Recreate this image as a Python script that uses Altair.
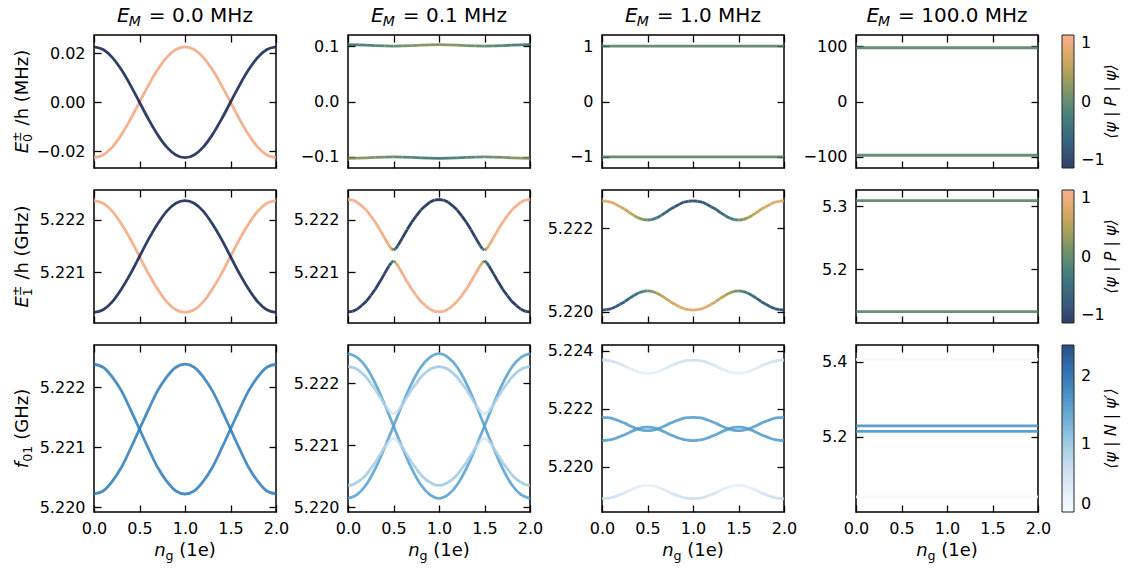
import altair as alt
import pandas as pd

FONT = "DejaVu Sans"

# ------------------------------------------------------------------ data
NG21 = [0.0, 0.1, 0.2, 0.3, 0.4, 0.5, 0.6, 0.7, 0.8, 0.9, 1.0,
        1.1, 1.2, 1.3, 1.4, 1.5, 1.6, 1.7, 1.8, 1.9, 2.0]
NG41 = [0.0, 0.05, 0.1, 0.15, 0.2, 0.25, 0.3, 0.35, 0.4, 0.45, 0.5,
        0.55, 0.6, 0.65, 0.7, 0.75, 0.8, 0.85, 0.9, 0.95, 1.0,
        1.05, 1.1, 1.15, 1.2, 1.25, 1.3, 1.35, 1.4, 1.45, 1.5,
        1.55, 1.6, 1.65, 1.7, 1.75, 1.8, 1.85, 1.9, 1.95, 2.0]
NG45 = [0.0, 0.05, 0.1, 0.15, 0.2, 0.25, 0.3, 0.35, 0.4, 0.45, 0.475, 0.5,
        0.525, 0.55, 0.6, 0.65, 0.7, 0.75, 0.8, 0.85, 0.9, 0.95, 1.0,
        1.05, 1.1, 1.15, 1.2, 1.25, 1.3, 1.35, 1.4, 1.45, 1.475, 1.5,
        1.525, 1.55, 1.6, 1.65, 1.7, 1.75, 1.8, 1.85, 1.9, 1.95, 2.0]
NG2 = [0.0, 2.0]

# row 1: E0 (MHz)
E0_NAVY = [0.0226, 0.0215, 0.0183, 0.0133, 0.0070, 0.0, -0.0070, -0.0133, -0.0183, -0.0215, -0.0226,
           -0.0215, -0.0183, -0.0133, -0.0070, 0.0, 0.0070, 0.0133, 0.0183, 0.0215, 0.0226]
E0_ORANGE = [-0.0226, -0.0215, -0.0183, -0.0133, -0.0070, 0.0, 0.0070, 0.0133, 0.0183, 0.0215, 0.0226,
             0.0215, 0.0183, 0.0133, 0.0070, 0.0, -0.0070, -0.0133, -0.0183, -0.0215, -0.0226]
E0B_TOP = [0.10252, 0.10228, 0.10166, 0.10088, 0.10024, 0.1, 0.10024, 0.10088, 0.10166, 0.10228, 0.10252,
           0.10228, 0.10166, 0.10088, 0.10024, 0.1, 0.10024, 0.10088, 0.10166, 0.10228, 0.10252]
E0B_BOT = [-0.10252, -0.10228, -0.10166, -0.10088, -0.10024, -0.1, -0.10024, -0.10088, -0.10166, -0.10228, -0.10252,
           -0.10228, -0.10166, -0.10088, -0.10024, -0.1, -0.10024, -0.10088, -0.10166, -0.10228, -0.10252]
E0B_TOP_P = [-0.22, -0.21, -0.18, -0.13, -0.07, 0.0, 0.07, 0.13, 0.18, 0.21, 0.22,
             0.21, 0.18, 0.13, 0.07, 0.0, -0.07, -0.13, -0.18, -0.21, -0.22]
E0B_BOT_P = [0.22, 0.21, 0.18, 0.13, 0.07, 0.0, -0.07, -0.13, -0.18, -0.21, -0.22,
             -0.21, -0.18, -0.13, -0.07, 0.0, 0.07, 0.13, 0.18, 0.21, 0.22]
E0C_LEVELS = [1.0, -1.0]
E0D_LEVELS = [97.0, -97.0]

# row 2: E1 (GHz)
E1_ORANGE = [5.22236, 5.22231, 5.22216, 5.22192, 5.22163, 5.22130, 5.22097, 5.22068, 5.22044, 5.22029, 5.22024,
             5.22029, 5.22044, 5.22068, 5.22097, 5.22130, 5.22163, 5.22192, 5.22216, 5.22231, 5.22236]
E1_NAVY = [5.22024, 5.22029, 5.22044, 5.22068, 5.22097, 5.22130, 5.22163, 5.22192, 5.22216, 5.22231, 5.22236,
           5.22231, 5.22216, 5.22192, 5.22163, 5.22130, 5.22097, 5.22068, 5.22044, 5.22029, 5.22024]
E1B_UP = [5.22238, 5.22237, 5.22233, 5.22226, 5.22218, 5.22207, 5.22195, 5.22181, 5.22166, 5.22151, 5.22145, 5.22142,
          5.22145, 5.22151, 5.22166, 5.22181, 5.22195, 5.22207, 5.22218, 5.22226, 5.22233, 5.22237, 5.22238,
          5.22237, 5.22233, 5.22226, 5.22218, 5.22207, 5.22195, 5.22181, 5.22166, 5.22151, 5.22145, 5.22142,
          5.22145, 5.22151, 5.22166, 5.22181, 5.22195, 5.22207, 5.22218, 5.22226, 5.22233, 5.22237, 5.22238]
E1B_LO = [5.22025, 5.22026, 5.22030, 5.22037, 5.22045, 5.22056, 5.22068, 5.22082, 5.22097, 5.22112, 5.22118, 5.22122,
          5.22118, 5.22112, 5.22097, 5.22082, 5.22068, 5.22056, 5.22045, 5.22037, 5.22030, 5.22026, 5.22025,
          5.22026, 5.22030, 5.22037, 5.22045, 5.22056, 5.22068, 5.22082, 5.22097, 5.22112, 5.22118, 5.22122,
          5.22118, 5.22112, 5.22097, 5.22082, 5.22068, 5.22056, 5.22045, 5.22037, 5.22030, 5.22026, 5.22025]
E1B_UP_P = [1.0, 1.0, 0.99, 0.99, 0.99, 0.99, 0.99, 0.98, 0.96, 0.86, 0.64, 0.0,
            -0.64, -0.86, -0.96, -0.98, -0.99, -0.99, -0.99, -0.99, -0.99, -1.0, -1.0,
            -1.0, -0.99, -0.99, -0.99, -0.99, -0.99, -0.98, -0.96, -0.86, -0.64, 0.0,
            0.64, 0.86, 0.96, 0.98, 0.99, 0.99, 0.99, 0.99, 0.99, 1.0, 1.0]
E1B_LO_P = [-1.0, -1.0, -0.99, -0.99, -0.99, -0.99, -0.99, -0.98, -0.96, -0.86, -0.64, 0.0,
            0.64, 0.86, 0.96, 0.98, 0.99, 0.99, 0.99, 0.99, 0.99, 1.0, 1.0,
            1.0, 0.99, 0.99, 0.99, 0.99, 0.99, 0.98, 0.96, 0.86, 0.64, 0.0,
            -0.64, -0.86, -0.96, -0.98, -0.99, -0.99, -0.99, -0.99, -0.99, -1.0, -1.0]
E1C_UP = [5.22266, 5.22265, 5.22263, 5.22258, 5.22252, 5.22246, 5.22238, 5.22231, 5.22225, 5.22221, 5.22220,
          5.22221, 5.22225, 5.22231, 5.22238, 5.22246, 5.22252, 5.22258, 5.22263, 5.22265, 5.22266,
          5.22265, 5.22263, 5.22258, 5.22252, 5.22246, 5.22238, 5.22231, 5.22225, 5.22221, 5.22220,
          5.22221, 5.22225, 5.22231, 5.22238, 5.22246, 5.22252, 5.22258, 5.22263, 5.22265, 5.22266]
E1C_LO = [5.22004, 5.22005, 5.22007, 5.22012, 5.22018, 5.22024, 5.22032, 5.22039, 5.22045, 5.22049, 5.22050,
          5.22049, 5.22045, 5.22039, 5.22032, 5.22024, 5.22018, 5.22012, 5.22007, 5.22005, 5.22004,
          5.22005, 5.22007, 5.22012, 5.22018, 5.22024, 5.22032, 5.22039, 5.22045, 5.22049, 5.22050,
          5.22049, 5.22045, 5.22039, 5.22032, 5.22024, 5.22018, 5.22012, 5.22007, 5.22005, 5.22004]
E1C_UP_P = [0.76, 0.76, 0.75, 0.72, 0.69, 0.64, 0.57, 0.47, 0.34, 0.18, 0.0,
            -0.18, -0.34, -0.47, -0.57, -0.64, -0.69, -0.72, -0.75, -0.76, -0.76,
            -0.76, -0.75, -0.72, -0.69, -0.64, -0.57, -0.47, -0.34, -0.18, 0.0,
            0.18, 0.34, 0.47, 0.57, 0.64, 0.69, 0.72, 0.75, 0.76, 0.76]
E1C_LO_P = [-0.76, -0.76, -0.75, -0.72, -0.69, -0.64, -0.57, -0.47, -0.34, -0.18, 0.0,
            0.18, 0.34, 0.47, 0.57, 0.64, 0.69, 0.72, 0.75, 0.76, 0.76,
            0.76, 0.75, 0.72, 0.69, 0.64, 0.57, 0.47, 0.34, 0.18, 0.0,
            -0.18, -0.34, -0.47, -0.57, -0.64, -0.69, -0.72, -0.75, -0.76, -0.76]
E1D_LEVELS = [5.309, 5.132]

# row 3: f01 (GHz)
F01A_A = [5.22238, 5.22233, 5.22217, 5.22194, 5.22163, 5.22130, 5.22097, 5.22066, 5.22043, 5.22027, 5.22022,
          5.22027, 5.22043, 5.22066, 5.22097, 5.22130, 5.22163, 5.22194, 5.22217, 5.22233, 5.22238]
F01A_B = [5.22022, 5.22027, 5.22043, 5.22066, 5.22097, 5.22130, 5.22163, 5.22194, 5.22217, 5.22233, 5.22238,
          5.22233, 5.22217, 5.22194, 5.22163, 5.22130, 5.22097, 5.22066, 5.22043, 5.22027, 5.22022]
F01A_N = 1.75
F01B_MA = [5.22248, 5.22242, 5.22226, 5.22200, 5.22167, 5.22131, 5.22095, 5.22062, 5.22036, 5.22020, 5.22014,
           5.22020, 5.22036, 5.22062, 5.22095, 5.22131, 5.22167, 5.22200, 5.22226, 5.22242, 5.22248]
F01B_MB = [5.22014, 5.22020, 5.22036, 5.22062, 5.22095, 5.22131, 5.22167, 5.22200, 5.22226, 5.22242, 5.22248,
           5.22242, 5.22226, 5.22200, 5.22167, 5.22131, 5.22095, 5.22062, 5.22036, 5.22020, 5.22014]
F01B_M_N = 1.4
F01B_LT = [5.22227, 5.22226, 5.22223, 5.22217, 5.22210, 5.22200, 5.22190, 5.22178, 5.22166, 5.22156, 5.22152, 5.22151,
           5.22152, 5.22156, 5.22166, 5.22178, 5.22190, 5.22200, 5.22210, 5.22217, 5.22223, 5.22226, 5.22227,
           5.22226, 5.22223, 5.22217, 5.22210, 5.22200, 5.22190, 5.22178, 5.22166, 5.22156, 5.22152, 5.22151,
           5.22152, 5.22156, 5.22166, 5.22178, 5.22190, 5.22200, 5.22210, 5.22217, 5.22223, 5.22226, 5.22227]
F01B_LB = [5.22035, 5.22036, 5.22040, 5.22045, 5.22052, 5.22062, 5.22072, 5.22084, 5.22096, 5.22106, 5.22110, 5.22111,
           5.22110, 5.22106, 5.22096, 5.22084, 5.22072, 5.22062, 5.22052, 5.22045, 5.22040, 5.22036, 5.22035,
           5.22036, 5.22040, 5.22045, 5.22052, 5.22062, 5.22072, 5.22084, 5.22096, 5.22106, 5.22110, 5.22111,
           5.22110, 5.22106, 5.22096, 5.22084, 5.22072, 5.22062, 5.22052, 5.22045, 5.22040, 5.22036, 5.22035]
F01B_L_N = [0.95, 0.95, 0.95, 0.94, 0.93, 0.91, 0.88, 0.83, 0.74, 0.58, 0.45, 0.38,
            0.45, 0.58, 0.74, 0.83, 0.88, 0.91, 0.93, 0.94, 0.95, 0.95, 0.95,
            0.95, 0.95, 0.94, 0.93, 0.91, 0.88, 0.83, 0.74, 0.58, 0.45, 0.38,
            0.45, 0.58, 0.74, 0.83, 0.88, 0.91, 0.93, 0.94, 0.95, 0.95, 0.95]
F01C_TOP = [5.22368, 5.22367, 5.22365, 5.22360, 5.22354, 5.22348, 5.22340, 5.22333, 5.22327, 5.22323, 5.22322,
            5.22323, 5.22327, 5.22333, 5.22340, 5.22348, 5.22354, 5.22360, 5.22365, 5.22367, 5.22368,
            5.22367, 5.22365, 5.22360, 5.22354, 5.22348, 5.22340, 5.22333, 5.22327, 5.22323, 5.22322,
            5.22323, 5.22327, 5.22333, 5.22340, 5.22348, 5.22354, 5.22360, 5.22365, 5.22367, 5.22368]
F01C_MA = [5.22171, 5.22170, 5.22168, 5.22163, 5.22157, 5.22151, 5.22143, 5.22136, 5.22130, 5.22126, 5.22125,
           5.22126, 5.22130, 5.22136, 5.22143, 5.22151, 5.22157, 5.22163, 5.22168, 5.22170, 5.22171,
           5.22170, 5.22168, 5.22163, 5.22157, 5.22151, 5.22143, 5.22136, 5.22130, 5.22126, 5.22125,
           5.22126, 5.22130, 5.22136, 5.22143, 5.22151, 5.22157, 5.22163, 5.22168, 5.22170, 5.22171]
F01C_MB = [5.22091, 5.22092, 5.22094, 5.22099, 5.22105, 5.22111, 5.22119, 5.22126, 5.22132, 5.22136, 5.22137,
           5.22136, 5.22132, 5.22126, 5.22119, 5.22111, 5.22105, 5.22099, 5.22094, 5.22092, 5.22091,
           5.22092, 5.22094, 5.22099, 5.22105, 5.22111, 5.22119, 5.22126, 5.22132, 5.22136, 5.22137,
           5.22136, 5.22132, 5.22126, 5.22119, 5.22111, 5.22105, 5.22099, 5.22094, 5.22092, 5.22091]
F01C_BOT = [5.21891, 5.21892, 5.21894, 5.21899, 5.21905, 5.21911, 5.21919, 5.21926, 5.21932, 5.21936, 5.21937,
            5.21936, 5.21932, 5.21926, 5.21919, 5.21911, 5.21905, 5.21899, 5.21894, 5.21892, 5.21891,
            5.21892, 5.21894, 5.21899, 5.21905, 5.21911, 5.21919, 5.21926, 5.21932, 5.21936, 5.21937,
            5.21936, 5.21932, 5.21926, 5.21919, 5.21911, 5.21905, 5.21899, 5.21894, 5.21892, 5.21891]
F01C_OUT_N = [0.60, 0.60, 0.58, 0.55, 0.50, 0.45, 0.39, 0.33, 0.28, 0.24, 0.22,
              0.24, 0.28, 0.33, 0.39, 0.45, 0.50, 0.55, 0.58, 0.60, 0.60,
              0.60, 0.58, 0.55, 0.50, 0.45, 0.39, 0.33, 0.28, 0.24, 0.22,
              0.24, 0.28, 0.33, 0.39, 0.45, 0.50, 0.55, 0.58, 0.60, 0.60]
F01C_MID_N = 1.45
F01D_LEVELS = [5.4064, 5.2293, 5.2144, 5.04]
F01D_N = [0.05, 1.55, 1.55, 0.05]

TITLES = ["0.0", "0.1", "1.0", "100.0"]
CBAR_TITLES = ["⟨ψ | P | ψ⟩", "⟨ψ | P | ψ⟩", "⟨ψ | N | ψ′⟩"]

# colour maps
P_STOPS = [-1.0, -0.75, -0.5, -0.25, 0.0, 0.25, 0.5, 0.75, 1.0]
P_COLORS = ["#0b1d4b", "#173a63", "#1d5268", "#2a6767", "#4d7b5c", "#7e8845",
            "#b3953f", "#db9d57", "#f4a47c"]
N_STOPS = [0.0, 0.306, 0.6125, 0.919, 1.225, 1.531, 1.8375, 2.144, 2.45]
N_COLORS = ["#f7fbff", "#deebf7", "#c6dbef", "#9ecae1", "#6baed6",
            "#4292c6", "#2171b5", "#08519c", "#08306b"]

# ------------------------------------------------------------------ helpers
ADV = {"0": .636, "1": .636, "2": .636, "3": .636, "4": .636, "5": .636, "6": .636,
       "7": .636, "8": .636, "9": .636, ".": .318, " ": .318, "=": .838, "M": .863,
       "H": .752, "z": .525, "(": .390, ")": .390, "e": .615, "n": .634, "g": .635,
       "E": .632, "/": .337, "h": .634, "G": .775, "f": .352, "±": .838}


def tw(s, size):
    return sum(ADV.get(ch, 0.6) for ch in s) * size


def seg_rows(ng, ys, cs):
    if not isinstance(cs, list):
        cs = [cs] * len(ng)
    out = []
    for i in range(len(ng) - 1):
        out.append({"x": ng[i], "x2": ng[i + 1], "y": ys[i], "y2": ys[i + 1],
                    "c": (cs[i] + cs[i + 1]) / 2.0})
    return out


def curve_rows(ng, ys, c, key):
    return [{"x": a, "y": b, "c": c, "k": key} for a, b in zip(ng, ys)]


def text_layer(s, x, y, size, italic=False, angle=0, align="left", baseline="alphabetic"):
    return alt.Chart(pd.DataFrame({"t": [s]})).mark_text(
        align=align, baseline=baseline, font=FONT, fontSize=size,
        fontStyle="italic" if italic else "normal", color="black", angle=angle
    ).encode(text="t:N", x=alt.value(x), y=alt.value(y))


def col_title(val, w):
    big, small = 20, 14
    rest = "= " + val + " MHz"
    gap = 0.35 * big
    total = tw("E", big) + tw("M", small) + gap + tw(rest, big)
    x0 = w / 2.0 - total / 2.0
    y0 = -13
    return [text_layer("E", x0, y0, big, True),
            text_layer("M", x0 + tw("E", big) - 1, y0 + 4, small, True),
            text_layer(rest, x0 + tw("E", big) + tw("M", small) + gap, y0, big)]


def row_title(main, sub, sup, rest, h, gap):
    big, small = 18, 12.6
    xb = -66
    w_main = tw(main, big)
    w_ss = max(tw(sub, small), tw(sup, small) if sup else 0)
    total = w_main + w_ss + gap + tw(rest, big)
    y0 = h / 2.0 + total / 2.0
    layers = [text_layer(main, xb, y0, big, True, 270),
              text_layer(sub, xb + 4, y0 - w_main, small, False, 270)]
    if sup:
        layers.append(text_layer(sup, xb - 7, y0 - w_main, small, False, 270))
    layers.append(text_layer(rest, xb, y0 - w_main - w_ss - gap, big, False, 270))
    return layers


def x_title(w, h):
    big, small = 18, 12.6
    rest = "(1e)"
    gap = 0.318 * big
    total = tw("n", big) + tw("g", small) + gap + tw(rest, big)
    x0 = w / 2.0 - total / 2.0
    y0 = h + 44
    return [text_layer("n", x0, y0, big, True),
            text_layer("g", x0 + tw("n", big), y0 + 4, small),
            text_layer(rest, x0 + tw("n", big) + tw("g", small) + gap, y0, big)]


def cbar_title(s, h):
    return [text_layer(s, 255, h / 2.0, 16, True, 270, "center", "middle")]


TICK_IN = {"expr": "-7"}
W = 182
XVALS = [0, 0.5, 1, 1.5, 2]


def make_panel(segs, curves, ydom, yvals, yfmt, xlabels, cscale, legend, h, extra):
    xs = alt.Scale(domain=[0, 2], nice=False, zero=False)
    ys = alt.Scale(domain=ydom, nice=False, zero=False)
    xaxis = alt.Axis(values=XVALS, format=".1f", labels=xlabels, labelPadding=15,
                     title=None, tickSize=TICK_IN, orient="bottom")
    yaxis = alt.Axis(values=yvals, format=yfmt, title=None, tickSize=TICK_IN,
                     labelPadding=16, orient="left")
    allrows = segs + curves
    frame = alt.Chart(pd.DataFrame(allrows)).mark_point(opacity=0).encode(
        x=alt.X("x:Q", scale=xs, axis=alt.Axis(values=XVALS, labels=False,
                                                title=None, tickSize=TICK_IN, orient="top")),
        y=alt.Y("y:Q", scale=ys, axis=alt.Axis(values=yvals, labels=False, title=None,
                                                tickSize=TICK_IN, orient="right")))
    layers = []
    first = True
    if curves:
        layers.append(alt.Chart(pd.DataFrame(curves)).mark_line(
            strokeWidth=2.8, opacity=0.85, clip=True, interpolate="monotone").encode(
            x=alt.X("x:Q", scale=xs, axis=xaxis),
            y=alt.Y("y:Q", scale=ys, axis=yaxis),
            color=alt.Color("c:Q", scale=cscale, legend=legend),
            detail="k:N"))
        first = False
    if segs:
        layers.append(alt.Chart(pd.DataFrame(segs)).mark_rule(
            strokeWidth=2.8, opacity=0.85, clip=True).encode(
            x=alt.X("x:Q", scale=xs, axis=xaxis if first else None), x2="x2:Q",
            y=alt.Y("y:Q", scale=ys, axis=yaxis if first else None), y2="y2:Q",
            color=alt.Color("c:Q", scale=cscale, legend=legend)))
    return alt.layer(*layers, frame, *extra).resolve_axis(
        x="independent", y="independent").properties(width=W, height=h)


def p_scale():
    return alt.Scale(domain=P_STOPS, range=P_COLORS, type="linear")


def n_scale():
    return alt.Scale(domain=N_STOPS, range=N_COLORS, type="linear")


def legend(vals, h):
    return alt.Legend(title=None, orient="none", legendX=206, legendY=0,
                      direction="vertical", gradientLength=h, gradientThickness=12,
                      labelFont=FONT, labelFontSize=16, labelColor="black", labelOffset=7,
                      labelBaseline="middle", values=vals, labelOverlap=False, padding=0,
                      gradientStrokeColor="black", gradientStrokeWidth=1)


H1, H2, H3 = 133, 133, 167
panels = []

# row 1
panels.append(make_panel([], curve_rows(NG21, E0_ORANGE, 1.0, "o") + curve_rows(NG21, E0_NAVY, -1.0, "n"),
                         [-0.0268, 0.0274], [-0.02, 0.0, 0.02], ".2f", False, p_scale(), None, H1,
                         col_title(TITLES[0], W) + row_title("E", "0", "±", "/h (MHz)", H1, 6)))
panels.append(make_panel(seg_rows(NG21, E0B_TOP, E0B_TOP_P) + seg_rows(NG21, E0B_BOT, E0B_BOT_P), [],
                         [-0.12, 0.12], [-0.1, 0.0, 0.1], ".1f", False, p_scale(), None, H1,
                         col_title(TITLES[1], W)))
panels.append(make_panel(seg_rows(NG2, [E0C_LEVELS[0]] * 2, 0.0) + seg_rows(NG2, [E0C_LEVELS[1]] * 2, 0.0), [],
                         [-1.2, 1.2], [-1, 0, 1], "d", False, p_scale(), None, H1,
                         col_title(TITLES[2], W)))
panels.append(make_panel(seg_rows(NG2, [E0D_LEVELS[0]] * 2, 0.0) + seg_rows(NG2, [E0D_LEVELS[1]] * 2, 0.0), [],
                         [-120, 120], [-100, 0, 100], "d", False, p_scale(), legend([-1, 0, 1], H1), H1,
                         col_title(TITLES[3], W) + cbar_title(CBAR_TITLES[0], H1)))

# row 2
panels.append(make_panel([], curve_rows(NG21, E1_ORANGE, 1.0, "o") + curve_rows(NG21, E1_NAVY, -1.0, "n"),
                         [5.22004, 5.22256], [5.221, 5.222], ".3f", False, p_scale(), None, H2,
                         row_title("E", "1", "±", "/h (GHz)", H2, 6)))
panels.append(make_panel(seg_rows(NG45, E1B_UP, E1B_UP_P) + seg_rows(NG45, E1B_LO, E1B_LO_P), [],
                         [5.22004, 5.22256], [5.221, 5.222], ".3f", False, p_scale(), None, H2, []))
panels.append(make_panel(seg_rows(NG41, E1C_UP, E1C_UP_P) + seg_rows(NG41, E1C_LO, E1C_LO_P), [],
                         [5.21973, 5.22292], [5.220, 5.222], ".3f", False, p_scale(), None, H2, []))
panels.append(make_panel(seg_rows(NG2, [E1D_LEVELS[0]] * 2, 0.0) + seg_rows(NG2, [E1D_LEVELS[1]] * 2, 0.0), [],
                         [5.114, 5.326], [5.2, 5.3], ".1f", False, p_scale(), legend([-1, 0, 1], H2), H2,
                         cbar_title(CBAR_TITLES[1], H2)))

# row 3
panels.append(make_panel([], curve_rows(NG21, F01A_A, F01A_N, "a") + curve_rows(NG21, F01A_B, F01A_N, "b"),
                         [5.21992, 5.22270], [5.220, 5.221, 5.222], ".3f", True, n_scale(), None, H3,
                         row_title("f", "01", None, "(GHz)", H3, 6) + x_title(W, H3)))
panels.append(make_panel(seg_rows(NG45, F01B_LT, F01B_L_N) + seg_rows(NG45, F01B_LB, F01B_L_N),
                         curve_rows(NG21, F01B_MA, F01B_M_N, "a") + curve_rows(NG21, F01B_MB, F01B_M_N, "b"),
                         [5.21992, 5.22262], [5.220, 5.221, 5.222], ".3f", True, n_scale(), None, H3,
                         x_title(W, H3)))
panels.append(make_panel(seg_rows(NG41, F01C_TOP, F01C_OUT_N) + seg_rows(NG41, F01C_BOT, F01C_OUT_N),
                         curve_rows(NG41, F01C_MA, F01C_MID_N, "a") + curve_rows(NG41, F01C_MB, F01C_MID_N, "b"),
                         [5.21845, 5.2242], [5.220, 5.222, 5.224], ".3f", True, n_scale(), None, H3,
                         x_title(W, H3)))
rows4 = []
for lev, nv in zip(F01D_LEVELS, F01D_N):
    rows4 += seg_rows(NG2, [lev, lev], nv)
panels.append(make_panel(rows4, [], [5.0, 5.4445], [5.2, 5.4], ".1f", True, n_scale(), legend([0, 1, 2], H3), H3,
                         x_title(W, H3) + cbar_title(CBAR_TITLES[2], H3)))

chart = alt.concat(*panels, columns=4, spacing={"row": 22, "column": 72},
                   bounds="flush", align="each").resolve_scale(
    color="independent"
).properties(
    autosize=alt.AutoSizeParams(type="none"),
    padding={"left": 94, "top": 35, "right": 1040, "bottom": 533},
    background="white",
).configure_view(
    stroke="black", strokeWidth=1.5
).configure_axis(
    grid=False, domain=False, tickColor="black", tickWidth=1.3, labelFlush=False,
    labelOverlap=False, labelFont=FONT, labelFontSize=16, labelColor="black"
)

chart.save("out.html", embed_options={"renderer": "svg", "actions": False})
